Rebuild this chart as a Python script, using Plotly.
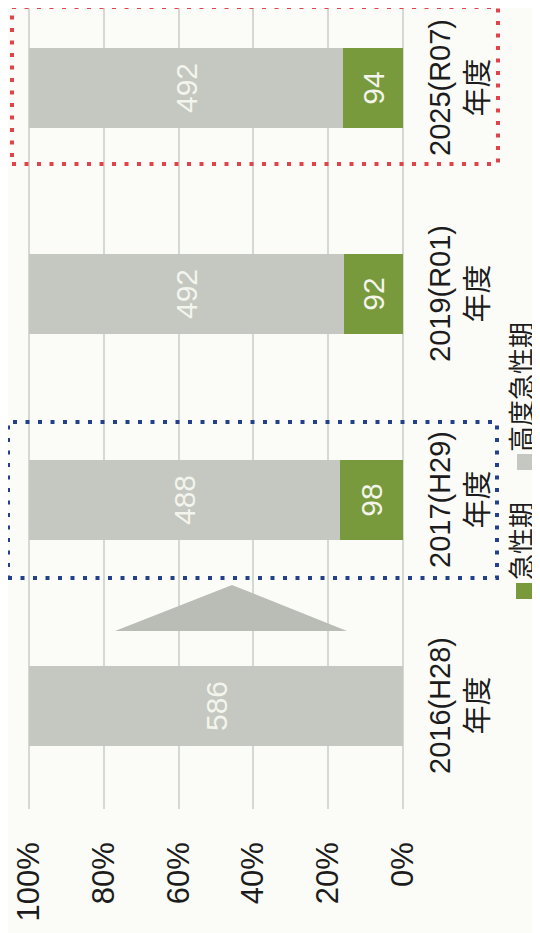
import plotly.graph_objects as go

# ---------------- data ----------------
categories = ["2016", "2017", "2019", "2025"]
category_labels = ["2016(H28)<br>年度", "2017(H29)<br>年度", "2019(R01)<br>年度", "2025(R07)<br>年度"]
acute = [None, 98, 92, 94]            # 急性期 (green)
high_acute = [586, 488, 492, 492]     # 高度急性期 (gray)
pct_tickvals = [0, 20, 40, 60, 80, 100]
pct_ticktext = ["0%", "20%", "40%", "60%", "80%", "100%"]
legend_names = ["急性期", "高度急性期"]

# ---------------- style ----------------
W, H = 540, 933
OFF = 8                 # page body margin of the html page
PLOT_H = 809 - OFF      # plot area height in figure pixels
GREEN = "#789a3c"
GRAY = "#c5c7c1"
TRI = "#babdb6"
BG = "#fbfcf7"
TXT = "#1c1c1c"
FONT = "Liberation Sans, Noto Sans CJK JP, sans-serif"
PX_PER_PCT = 3.74
X100 = 29 - OFF          # figure x of 100 %
X0 = 403 - OFF           # figure x of 0 %
CAT0 = 706 - OFF         # figure y of the first category centre
CAT_STEP = 206


def px(x):
    return (x - OFF) / W


def py(y):
    return (PLOT_H - (y - OFF)) / PLOT_H


fig = go.Figure()
fig.add_trace(go.Bar(
    y=categories, x=acute, orientation="h", name=legend_names[0],
    marker=dict(color=GREEN, line=dict(width=0)),
    text=[("" if v is None else str(v)) for v in acute], texttemplate="%{text}",
    textposition="inside", insidetextanchor="middle", textangle=-90,
    textfont=dict(size=30, color="#f3f5ec", family=FONT), width=0.393,
    showlegend=False,
))
fig.add_trace(go.Bar(
    y=categories, x=high_acute, orientation="h", name=legend_names[1],
    marker=dict(color=GRAY, line=dict(width=0)),
    text=[str(v) for v in high_acute], texttemplate="%{text}",
    textposition="inside", insidetextanchor="middle", textangle=-90,
    textfont=dict(size=30, color="#f3f5ec", family=FONT), width=0.393,
    showlegend=False,
))

shapes = []
# triangle decoration between 2016 and 2017
shapes.append(dict(
    type="path", xref="paper", yref="paper",
    path=f"M {px(115)} {py(631)} L {px(232)} {py(585)} L {px(347)} {py(631)} Z",
    fillcolor=TRI, line=dict(width=0), layer="above",
))
# blue dotted box around 2017
shapes.append(dict(
    type="rect", xref="paper", yref="paper",
    x0=px(8), x1=px(497), y0=py(578), y1=py(422),
    line=dict(color="#23408a", width=4, dash="4px,8.5px"), fillcolor="rgba(0,0,0,0)",
))
# red dotted box around 2025
shapes.append(dict(
    type="rect", xref="paper", yref="paper",
    x0=px(12), x1=px(498), y0=py(164), y1=py(7),
    line=dict(color="#e0444a", width=4, dash="4px,8.5px"), fillcolor="rgba(0,0,0,0)",
))
# legend squares
shapes.append(dict(type="rect", xref="paper", yref="paper",
                   x0=px(516), x1=px(532), y0=py(599), y1=py(583),
                   fillcolor=GREEN, line=dict(width=0)))
shapes.append(dict(type="rect", xref="paper", yref="paper",
                   x0=px(517), x1=px(533), y0=py(470), y1=py(454),
                   fillcolor=GRAY, line=dict(width=0)))

annotations = []
for i, lab in enumerate(category_labels):
    annotations.append(dict(
        x=px(459), xref="paper", y=i, yref="y", text=lab, showarrow=False,
        xanchor="center", yanchor="middle",
        textangle=-90, font=dict(size=29, color=TXT, family=FONT), align="center",
    ))
annotations.append(dict(x=px(522), xref="paper", y=py(541), yref="paper",
                        xanchor="center", yanchor="middle",
                        text=legend_names[0], showarrow=False, textangle=-90,
                        font=dict(size=26, color=TXT, family=FONT)))
annotations.append(dict(x=px(522), xref="paper", y=py(387), yref="paper",
                        xanchor="center", yanchor="middle",
                        text=legend_names[1], showarrow=False, textangle=-90,
                        font=dict(size=26, color=TXT, family=FONT)))

fig.update_layout(
    width=W, height=H, barmode="stack", barnorm="percent",
    paper_bgcolor=BG, plot_bgcolor=BG,
    margin=dict(l=0, r=0, t=0, b=H - PLOT_H, pad=0, autoexpand=False),
    shapes=shapes, annotations=annotations, showlegend=False,
    xaxis=dict(
        range=[100 + X100 / PX_PER_PCT, 0 - (W - X0) / PX_PER_PCT],
        tickvals=pct_tickvals, ticktext=pct_ticktext, tickangle=-90,
        tickfont=dict(size=31, color=TXT, family=FONT),
        showgrid=True, gridcolor="#d6d8d2", gridwidth=1.5,
        zeroline=False, showline=False, ticks="", ticklabelstandoff=26,
        fixedrange=True, automargin=False,
    ),
    yaxis=dict(
        type="category", categoryorder="array", categoryarray=categories,
        range=[-(PLOT_H - CAT0) / CAT_STEP, CAT0 / CAT_STEP],
        showticklabels=False, showgrid=False,
        zeroline=False, showline=False, ticks="", fixedrange=True,
        automargin=False,
    ),
)

fig.write_html("out.html")
